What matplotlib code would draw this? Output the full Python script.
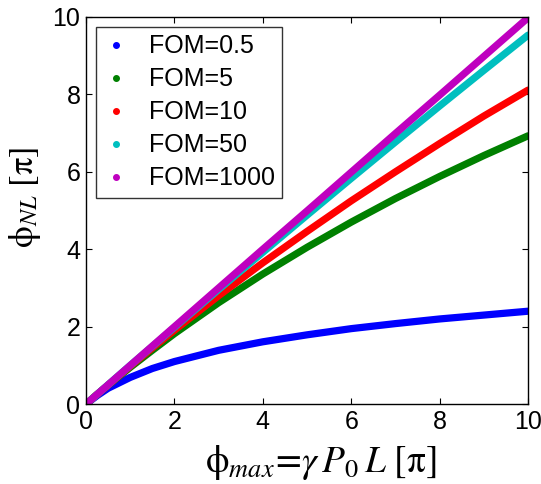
import numpy as np
import matplotlib
matplotlib.use('Agg')
from matplotlib import pyplot as plt
from matplotlib.lines import Line2D

# phi_max [pi] sample positions and phi_NL [pi]
phi_max = [0, 0.25, 0.5, 1, 1.5, 2, 3, 4, 5, 6, 7, 8, 9, 10]
fom_05 = [0, 0.22, 0.41, 0.69, 0.92, 1.10, 1.39, 1.61, 1.79, 1.95, 2.08, 2.20, 2.30, 2.40]
fom_5 = [0, 0.25, 0.49, 0.95, 1.39, 1.82, 2.62, 3.36, 4.05, 4.70, 5.31, 5.88, 6.42, 6.93]
fom_10 = [0, 0.25, 0.49, 0.98, 1.45, 1.91, 2.80, 3.65, 4.46, 5.25, 6.00, 6.73, 7.44, 8.11]
fom_50 = [0, 0.25, 0.50, 1.00, 1.49, 1.98, 2.96, 3.92, 4.88, 5.83, 6.77, 7.70, 8.62, 9.53]
fom_1000 = [0, 0.25, 0.50, 1.00, 1.50, 2.00, 3.00, 4.00, 4.99, 5.99, 6.99, 7.98, 8.98, 9.98]

series = [fom_05, fom_5, fom_10, fom_50, fom_1000]
labels = ['FOM=0.5', 'FOM=5', 'FOM=10', 'FOM=50', 'FOM=1000']
colors = ['#0000ff', '#008000', '#ff0000', '#00bfbf', '#bf00bf']

plt.rcParams['font.family'] = ['Liberation Sans', 'DejaVu Sans']
plt.rcParams['mathtext.fontset'] = 'stix'
fig = plt.figure(figsize=(5.41, 4.84), dpi=100)
ax = fig.add_axes([0.159, 0.165, 0.817, 0.800])

for y, c in zip(series, colors):
    ax.plot(phi_max, y, '-', color=c, lw=5.2, solid_capstyle='round', solid_joinstyle='round')

ax.set_xlim(0, 10)
ax.set_ylim(0, 10)
ax.set_xticks([0, 2, 4, 6, 8, 10])
ax.set_yticks([0, 2, 4, 6, 8, 10])
ax.tick_params(direction='in', top=True, right=True, length=4, width=0.8,
               labelsize=18, pad=4)
for s in ax.spines.values():
    s.set_linewidth(1.0)

ax.set_xlabel(r'$\mathrm{\phi}_{max}\!=\!\gamma\,P_{0}\,L\ [\mathrm{\pi}]$', fontsize=27)
ax.set_ylabel(r'$\mathrm{\phi}_{NL}\ [\mathrm{\pi}]$', fontsize=25)
ax.xaxis.set_label_coords(0.53, -0.1)
ax.yaxis.set_label_coords(-0.098, 0.535)

handles = [Line2D([], [], ls='none', marker='o', ms=4, color=c) for c in colors]
leg = ax.legend(handles, labels, loc='upper left', fontsize=18, frameon=True,
                fancybox=False, edgecolor='black', handlelength=1.0,
                handletextpad=0.8, labelspacing=0.36, borderpad=0.3,
                borderaxespad=0.4, bbox_to_anchor=(0.0, 1.0))
leg.get_frame().set_linewidth(1.0)

fig.savefig('out.png', dpi=100)
